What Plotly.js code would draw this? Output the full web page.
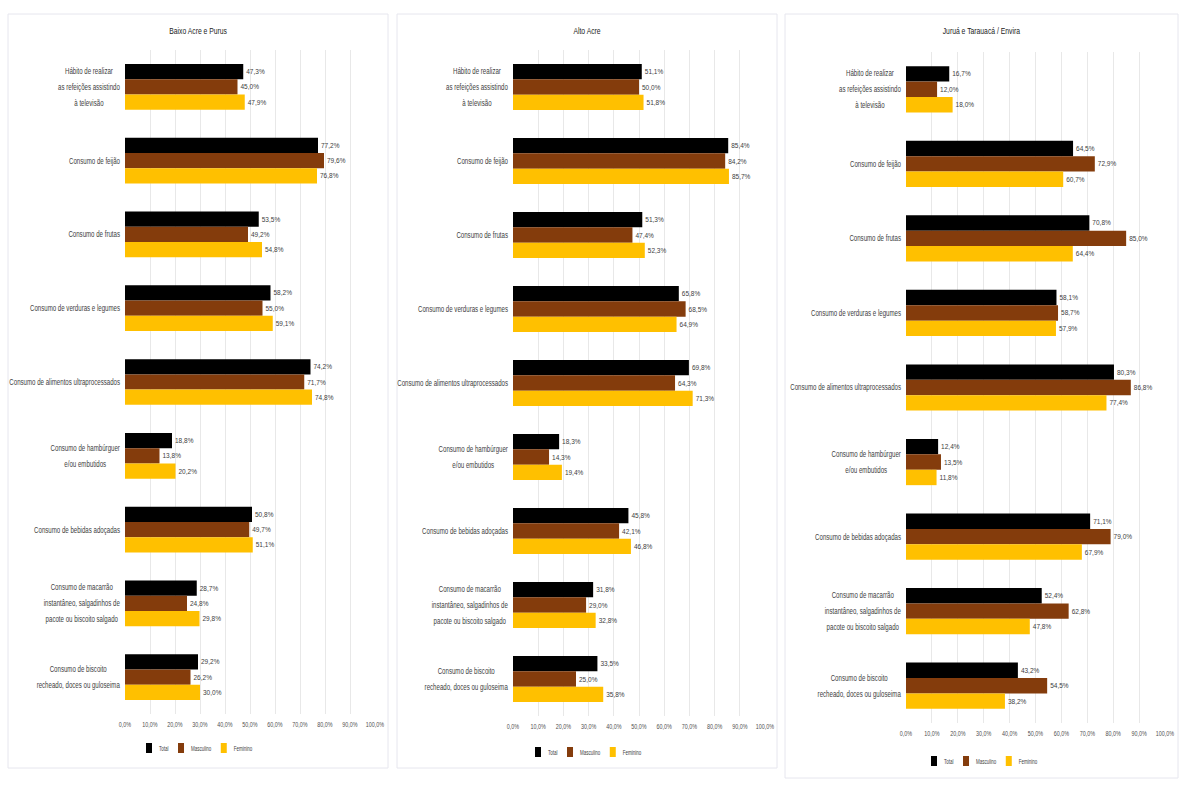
<!DOCTYPE html>
<html>
<head>
<meta charset="utf-8">
<script src="https://cdn.plot.ly/plotly-3.0.1.min.js"></script>
<style>
html,body{margin:0;padding:0;background:#ffffff;}
#chart{width:1182px;height:794px;}
</style>
</head>
<body>
<div id="chart"></div>
<script>
// ---- Data ----
const categories = [
  "Hábito de realizar<br>as refeições assistindo<br>à televisão",
  "Consumo de feijão",
  "Consumo de frutas",
  "Consumo de verduras e legumes",
  "Consumo de alimentos ultraprocessados",
  "Consumo de hambúrguer<br>e/ou embutidos",
  "Consumo de bebidas adoçadas",
  "Consumo de macarrão<br>instantâneo, salgadinhos de<br>pacote ou biscoito salgado",
  "Consumo de biscoito<br>recheado, doces ou guloseima"
];
const panelTitles = ["Baixo Acre e Purus", "Alto Acre", "Juruá e Tarauacá / Envira"];
const seriesNames = ["Total", "Masculino", "Feminino"];

const baixoTotal     = [47.3, 77.2, 53.5, 58.2, 74.2, 18.8, 50.8, 28.7, 29.2];
const baixoMasculino = [45.0, 79.6, 49.2, 55.0, 71.7, 13.8, 49.7, 24.8, 26.2];
const baixoFeminino  = [47.9, 76.8, 54.8, 59.1, 74.8, 20.2, 51.1, 29.8, 30.0];

const altoTotal      = [51.1, 85.4, 51.3, 65.8, 69.8, 18.3, 45.8, 31.8, 33.5];
const altoMasculino  = [50.0, 84.2, 47.4, 68.5, 64.3, 14.3, 42.1, 29.0, 25.0];
const altoFeminino   = [51.8, 85.7, 52.3, 64.9, 71.3, 19.4, 46.8, 32.8, 35.8];

const juruaTotal     = [16.7, 64.5, 70.8, 58.1, 80.3, 12.4, 71.1, 52.4, 43.2];
const juruaMasculino = [12.0, 72.9, 85.0, 58.7, 86.8, 13.5, 79.0, 62.8, 54.5];
const juruaFeminino  = [18.0, 60.7, 64.4, 57.9, 77.4, 11.8, 67.9, 47.8, 38.2];

const tickValues = [0, 10, 20, 30, 40, 50, 60, 70, 80, 90, 100];

// ---- Styling ----
const W = 1182, H = 794;
const colors = ["#000000", "#843C0C", "#FFC000"];
const FONT = "'Liberation Sans Narrow', 'Liberation Sans', Arial, sans-serif";
const fmt = v => v.toFixed(1).replace('.', ',') + '%';
const tickText = tickValues.map(v => v.toFixed(1).replace('.', ',') + '%');
const CAT_FS = 8.5;

const panels = [
  {data:[baixoTotal, baixoMasculino, baixoFeminino], x0:125, x1:375, y0:50, y1:714, card:[8,14,388,768], legX:197, legY:748, titleY:31},
  {data:[altoTotal, altoMasculino, altoFeminino],   x0:513, x1:765, y0:50, y1:716, card:[397,14,777,768], legX:586, legY:752, titleY:31},
  {data:[juruaTotal, juruaMasculino, juruaFeminino], x0:906, x1:1165, y0:52, y1:723, card:[785,14,1178,778], legX:982, legY:761, titleY:31}
];

const traces = [];
const layout = {
  width: W, height: H,
  margin: {l:0, r:0, t:0, b:0},
  paper_bgcolor: "#ffffff",
  plot_bgcolor: "rgba(0,0,0,0)",
  barmode: "group",
  bargap: 0.38,
  bargroupgap: 0,
  font: {family: FONT, size: 8, color: "#404040"},
  shapes: [],
  annotations: []
};

panels.forEach((p, i) => {
  const n = i === 0 ? "" : String(i + 1);
  const xa = "x" + n, ya = "y" + n;
  const legName = "legend" + n;
  p.data.forEach((vals, k) => {
    traces.push({
      type: "bar",
      orientation: "h",
      name: seriesNames[k],
      x: vals,
      y: categories,
      xaxis: xa, yaxis: ya,
      legend: legName,
      marker: {color: colors[k]},
      text: vals.map(fmt),
      textposition: "outside",
      textfont: {family: FONT, size: 6.5, color: "#404040"},
      cliponaxis: false,
      hoverinfo: "x+y+name"
    });
  });
  layout["xaxis" + n] = {
    domain: [p.x0 / W, p.x1 / W],
    anchor: ya,
    range: [0, 100],
    tickvals: tickValues,
    ticktext: tickText,
    tickangle: 0,
    showgrid: true,
    gridcolor: "#e8e8e8",
    gridwidth: 1,
    zeroline: false,
    showline: false,
    ticks: "",
    ticklabelstandoff: 5,
    tickfont: {family: FONT, size: 7.5, color: "#505050"},
    fixedrange: true
  };
  layout["yaxis" + n] = {
    domain: [1 - p.y1 / H, 1 - p.y0 / H],
    anchor: xa,
    type: "category",
    autorange: "reversed",
    showgrid: false,
    zeroline: false,
    showline: false,
    ticks: "",
    ticklabelstandoff: 4,
    tickfont: {family: FONT, size: CAT_FS, color: "#404040"},
    fixedrange: true
  };
  layout[legName] = {
    orientation: "h",
    x: p.legX / W,
    xanchor: "center",
    y: 1 - p.legY / H,
    yanchor: "middle",
    font: {family: FONT, size: 9, color: "#404040"},
    bgcolor: "rgba(0,0,0,0)",
    itemwidth: 30,
    tracegroupgap: 0,
    traceorder: "normal"
  };
  const c = p.card;
  layout.shapes.push({
    type: "rect", xref: "paper", yref: "paper", layer: "below",
    x0: c[0] / W, x1: c[2] / W, y0: 1 - c[3] / H, y1: 1 - c[1] / H,
    fillcolor: "#ffffff", line: {color: "#e6e6ee", width: 1}
  });
  layout.annotations.push({
    xref: "paper", yref: "paper",
    x: (c[0] + c[2]) / 2 / W, y: 1 - p.titleY / H,
    text: panelTitles[i], showarrow: false,
    xanchor: "center", yanchor: "middle",
    font: {family: FONT, size: 8.5, color: "#222222"}
  });
});

// condense text horizontally (the reference uses a narrow typeface)
function condense(el, s) {
  const x = parseFloat(el.getAttribute('x')) || 0;
  const tr = el.getAttribute('transform') || '';
  el.setAttribute('transform', tr + ` translate(${x},0) scale(${s},1) translate(${-x},0)`);
}

Plotly.newPlot("chart", traces, layout, {displayModeBar: false, staticPlot: true}).then(gd => {
  const LH = 1.9;
  gd.querySelectorAll('.ytick text, .y2tick text, .y3tick text').forEach(t => {
    const lines = t.querySelectorAll('tspan.line');
    if (lines.length > 1) {
      const wid = t.getBBox().width;
      lines.forEach((ln, j) => { ln.setAttribute('dy', (j * LH) + 'em'); ln.setAttribute('text-anchor', 'middle'); });
      const shift = -(lines.length - 1) * (LH - 1.3) * CAT_FS / 2;
      t.setAttribute('text-anchor', 'middle');
      const x = parseFloat(t.getAttribute('x')) || 0;
      const tr = t.getAttribute('transform') || '';
      t.setAttribute('transform', tr + ` translate(0,${shift}) translate(${x},0) scale(0.72,1) translate(${-x},0) translate(${-wid/2},0)`);
    } else {
      condense(t, 0.72);
    }
  });
  gd.querySelectorAll('.xtick text, .x2tick text, .x3tick text').forEach(t => condense(t, 0.72));
  gd.querySelectorAll('.annotation-text').forEach(t => condense(t, 0.8));
  ['legend', 'legend2', 'legend3'].forEach(cls => {
    const g = gd.querySelector('g.' + cls);
    if (!g) return;
    const bb = g.getBBox();
    const cx = bb.x + bb.width / 2, cy = bb.y + bb.height / 2;
    const tr = g.getAttribute('transform') || '';
    g.setAttribute('transform', tr + ` translate(${cx},${cy}) scale(0.5,0.85) translate(${-cx},${-cy})`);
  });
});
</script>
</body>
</html>
